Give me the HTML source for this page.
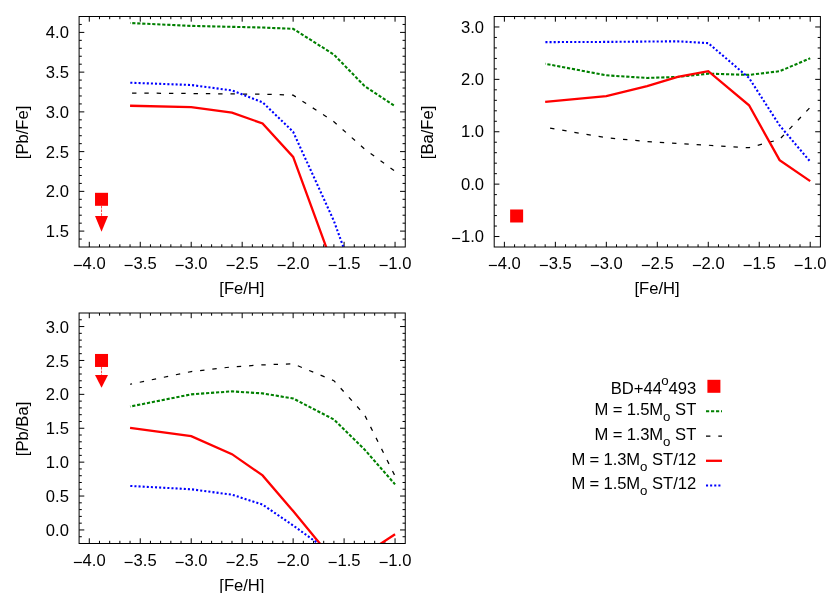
<!DOCTYPE html>
<html><head><meta charset="utf-8"><title>chart</title>
<style>
html,body{margin:0;padding:0;background:#fff;}
body{width:830px;height:593px;overflow:hidden;}
svg{display:block;will-change:transform;}
text{font-family:"Liberation Sans", sans-serif;font-size:16.6px;fill:#000;}
</style></head><body>
<svg width="830" height="593" viewBox="0 0 830 593">
<rect width="830" height="593" fill="#fff"/>
<!-- panel p1 -->
<clipPath id="cp1"><rect x="79.1" y="16.5" width="326.15" height="230.5"/></clipPath>
<path d="M89.29 247 v-5.2 M89.29 16.5 v5.2 M99.48 247 v-2.7 M99.48 16.5 v2.7 M109.68 247 v-2.7 M109.68 16.5 v2.7 M119.87 247 v-2.7 M119.87 16.5 v2.7 M130.06 247 v-2.7 M130.06 16.5 v2.7 M140.25 247 v-5.2 M140.25 16.5 v5.2 M150.45 247 v-2.7 M150.45 16.5 v2.7 M160.64 247 v-2.7 M160.64 16.5 v2.7 M170.83 247 v-2.7 M170.83 16.5 v2.7 M181.02 247 v-2.7 M181.02 16.5 v2.7 M191.21 247 v-5.2 M191.21 16.5 v5.2 M201.41 247 v-2.7 M201.41 16.5 v2.7 M211.6 247 v-2.7 M211.6 16.5 v2.7 M221.79 247 v-2.7 M221.79 16.5 v2.7 M231.98 247 v-2.7 M231.98 16.5 v2.7 M242.18 247 v-5.2 M242.18 16.5 v5.2 M252.37 247 v-2.7 M252.37 16.5 v2.7 M262.56 247 v-2.7 M262.56 16.5 v2.7 M272.75 247 v-2.7 M272.75 16.5 v2.7 M282.94 247 v-2.7 M282.94 16.5 v2.7 M293.14 247 v-5.2 M293.14 16.5 v5.2 M303.33 247 v-2.7 M303.33 16.5 v2.7 M313.52 247 v-2.7 M313.52 16.5 v2.7 M323.71 247 v-2.7 M323.71 16.5 v2.7 M333.9 247 v-2.7 M333.9 16.5 v2.7 M344.1 247 v-5.2 M344.1 16.5 v5.2 M354.29 247 v-2.7 M354.29 16.5 v2.7 M364.48 247 v-2.7 M364.48 16.5 v2.7 M374.67 247 v-2.7 M374.67 16.5 v2.7 M384.87 247 v-2.7 M384.87 16.5 v2.7 M395.06 247 v-5.2 M395.06 16.5 v5.2 M79.1 239.05 h2.7 M405.25 239.05 h-2.7 M79.1 231.1 h5.2 M405.25 231.1 h-5.2 M79.1 223.16 h2.7 M405.25 223.16 h-2.7 M79.1 215.21 h2.7 M405.25 215.21 h-2.7 M79.1 207.26 h2.7 M405.25 207.26 h-2.7 M79.1 199.31 h2.7 M405.25 199.31 h-2.7 M79.1 191.36 h5.2 M405.25 191.36 h-5.2 M79.1 183.41 h2.7 M405.25 183.41 h-2.7 M79.1 175.47 h2.7 M405.25 175.47 h-2.7 M79.1 167.52 h2.7 M405.25 167.52 h-2.7 M79.1 159.57 h2.7 M405.25 159.57 h-2.7 M79.1 151.62 h5.2 M405.25 151.62 h-5.2 M79.1 143.67 h2.7 M405.25 143.67 h-2.7 M79.1 135.72 h2.7 M405.25 135.72 h-2.7 M79.1 127.78 h2.7 M405.25 127.78 h-2.7 M79.1 119.83 h2.7 M405.25 119.83 h-2.7 M79.1 111.88 h5.2 M405.25 111.88 h-5.2 M79.1 103.93 h2.7 M405.25 103.93 h-2.7 M79.1 95.98 h2.7 M405.25 95.98 h-2.7 M79.1 88.03 h2.7 M405.25 88.03 h-2.7 M79.1 80.09 h2.7 M405.25 80.09 h-2.7 M79.1 72.14 h5.2 M405.25 72.14 h-5.2 M79.1 64.19 h2.7 M405.25 64.19 h-2.7 M79.1 56.24 h2.7 M405.25 56.24 h-2.7 M79.1 48.29 h2.7 M405.25 48.29 h-2.7 M79.1 40.34 h2.7 M405.25 40.34 h-2.7 M79.1 32.4 h5.2 M405.25 32.4 h-5.2 M79.1 24.45 h2.7 M405.25 24.45 h-2.7" stroke="#000" stroke-width="1" fill="none"/>
<g clip-path="url(#cp1)" fill="none" stroke-linejoin="miter" stroke-linecap="butt">
<polyline points="130.06,23.02 191.21,25.88 231.98,26.83 262.56,27.55 293.14,28.82 333.9,54.57 364.48,85.97 395.06,106.16" stroke="#008000" stroke-width="2.1" stroke-dasharray="3.2 1.8" stroke-dashoffset="2.8"/>
<polyline points="130.06,93.04 191.21,93.52 231.98,93.92 262.56,94.23 293.14,95.11 333.9,121.66 364.48,148.92 395.06,171.25" stroke="#000000" stroke-width="1.25" stroke-dasharray="4.4 7.9" stroke-dashoffset="10.3"/>
<polyline points="130.06,105.76 191.21,107.19 231.98,112.59 262.56,123.48 293.14,156.95 333.9,268.14 364.48,334.43 395.06,366.22" stroke="#ff0000" stroke-width="2.3"/>
<polyline points="130.06,82.71 191.21,85.01 231.98,90.42 262.56,102.26 293.14,131.75 333.9,221.01 364.48,305.02 395.06,350.33" stroke="#0000ff" stroke-width="2.1" stroke-dasharray="2.06 2.06" stroke-dashoffset="3.87"/>
</g>
<line x1="101.52" y1="205.81" x2="101.52" y2="215.9" stroke="#ff0000" stroke-width="0.7" stroke-dasharray="2.6 1.1"/>
<path d="M95.02 215.9 L108.02 215.9 L101.52 231.8 Z" fill="#ff0000"/>
<rect x="95.02" y="192.81" width="13" height="13" fill="#ff0000"/>
<rect x="79.1" y="16.5" width="326.15" height="230.5" fill="none" stroke="#000" stroke-width="1"/>
<text x="89.29" y="268.9" text-anchor="middle"><tspan dy="1.8">−</tspan><tspan dy="-1.8">4.0</tspan></text>
<text x="140.25" y="268.9" text-anchor="middle"><tspan dy="1.8">−</tspan><tspan dy="-1.8">3.5</tspan></text>
<text x="191.21" y="268.9" text-anchor="middle"><tspan dy="1.8">−</tspan><tspan dy="-1.8">3.0</tspan></text>
<text x="242.17" y="268.9" text-anchor="middle"><tspan dy="1.8">−</tspan><tspan dy="-1.8">2.5</tspan></text>
<text x="293.14" y="268.9" text-anchor="middle"><tspan dy="1.8">−</tspan><tspan dy="-1.8">2.0</tspan></text>
<text x="344.1" y="268.9" text-anchor="middle"><tspan dy="1.8">−</tspan><tspan dy="-1.8">1.5</tspan></text>
<text x="395.06" y="268.9" text-anchor="middle"><tspan dy="1.8">−</tspan><tspan dy="-1.8">1.0</tspan></text>
<text x="68.9" y="237.1" text-anchor="end">1.5</text>
<text x="68.9" y="197.36" text-anchor="end">2.0</text>
<text x="68.9" y="157.62" text-anchor="end">2.5</text>
<text x="68.9" y="117.88" text-anchor="end">3.0</text>
<text x="68.9" y="78.14" text-anchor="end">3.5</text>
<text x="68.9" y="38.4" text-anchor="end">4.0</text>
<text x="241.88" y="293.6" text-anchor="middle">[Fe/H]</text>
<text transform="translate(27.9 132.45) rotate(-90)" text-anchor="middle">[Pb/Fe]</text>
<!-- panel p2 -->
<clipPath id="cp2"><rect x="494.2" y="16.5" width="326.2" height="230.5"/></clipPath>
<path d="M504.39 247 v-5.2 M504.39 16.5 v5.2 M514.59 247 v-2.7 M514.59 16.5 v2.7 M524.78 247 v-2.7 M524.78 16.5 v2.7 M534.98 247 v-2.7 M534.98 16.5 v2.7 M545.17 247 v-2.7 M545.17 16.5 v2.7 M555.36 247 v-5.2 M555.36 16.5 v5.2 M565.56 247 v-2.7 M565.56 16.5 v2.7 M575.75 247 v-2.7 M575.75 16.5 v2.7 M585.94 247 v-2.7 M585.94 16.5 v2.7 M596.14 247 v-2.7 M596.14 16.5 v2.7 M606.33 247 v-5.2 M606.33 16.5 v5.2 M616.52 247 v-2.7 M616.52 16.5 v2.7 M626.72 247 v-2.7 M626.72 16.5 v2.7 M636.91 247 v-2.7 M636.91 16.5 v2.7 M647.11 247 v-2.7 M647.11 16.5 v2.7 M657.3 247 v-5.2 M657.3 16.5 v5.2 M667.49 247 v-2.7 M667.49 16.5 v2.7 M677.69 247 v-2.7 M677.69 16.5 v2.7 M687.88 247 v-2.7 M687.88 16.5 v2.7 M698.08 247 v-2.7 M698.08 16.5 v2.7 M708.27 247 v-5.2 M708.27 16.5 v5.2 M718.46 247 v-2.7 M718.46 16.5 v2.7 M728.66 247 v-2.7 M728.66 16.5 v2.7 M738.85 247 v-2.7 M738.85 16.5 v2.7 M749.04 247 v-2.7 M749.04 16.5 v2.7 M759.24 247 v-5.2 M759.24 16.5 v5.2 M769.43 247 v-2.7 M769.43 16.5 v2.7 M779.62 247 v-2.7 M779.62 16.5 v2.7 M789.82 247 v-2.7 M789.82 16.5 v2.7 M800.01 247 v-2.7 M800.01 16.5 v2.7 M810.21 247 v-5.2 M810.21 16.5 v5.2 M494.2 236.52 h5.2 M820.4 236.52 h-5.2 M494.2 226.05 h2.7 M820.4 226.05 h-2.7 M494.2 215.57 h2.7 M820.4 215.57 h-2.7 M494.2 205.09 h2.7 M820.4 205.09 h-2.7 M494.2 194.61 h2.7 M820.4 194.61 h-2.7 M494.2 184.14 h5.2 M820.4 184.14 h-5.2 M494.2 173.66 h2.7 M820.4 173.66 h-2.7 M494.2 163.18 h2.7 M820.4 163.18 h-2.7 M494.2 152.7 h2.7 M820.4 152.7 h-2.7 M494.2 142.23 h2.7 M820.4 142.23 h-2.7 M494.2 131.75 h5.2 M820.4 131.75 h-5.2 M494.2 121.27 h2.7 M820.4 121.27 h-2.7 M494.2 110.8 h2.7 M820.4 110.8 h-2.7 M494.2 100.32 h2.7 M820.4 100.32 h-2.7 M494.2 89.84 h2.7 M820.4 89.84 h-2.7 M494.2 79.36 h5.2 M820.4 79.36 h-5.2 M494.2 68.89 h2.7 M820.4 68.89 h-2.7 M494.2 58.41 h2.7 M820.4 58.41 h-2.7 M494.2 47.93 h2.7 M820.4 47.93 h-2.7 M494.2 37.45 h2.7 M820.4 37.45 h-2.7 M494.2 26.98 h5.2 M820.4 26.98 h-5.2" stroke="#000" stroke-width="1" fill="none"/>
<g clip-path="url(#cp2)" fill="none" stroke-linejoin="miter" stroke-linecap="butt">
<polyline points="545.17,63.75 606.33,75.33 647.11,77.95 677.69,76.95 708.27,73.65 749.04,74.91 779.62,71.24 810.21,58.3" stroke="#008000" stroke-width="2.1" stroke-dasharray="3.2 1.8" stroke-dashoffset="2.8"/>
<polyline points="545.17,127.3 606.33,137.72 647.11,141.49 677.69,143.48 708.27,145.21 749.04,147.73 779.62,139.4 810.21,107.29" stroke="#000000" stroke-width="1.25" stroke-dasharray="4.4 7.9" stroke-dashoffset="7.3"/>
<polyline points="545.17,101.89 606.33,96.18 647.11,86.07 677.69,76.95 708.27,71.24 749.04,105.29 779.62,160.14 810.21,181.15" stroke="#ff0000" stroke-width="2.3"/>
<polyline points="545.17,42.12 606.33,41.91 647.11,41.54 677.69,41.33 708.27,43.11 749.04,77.95 779.62,125.46 810.21,161.61" stroke="#0000ff" stroke-width="2.1" stroke-dasharray="2.06 2.06" stroke-dashoffset="3.87"/>
</g>
<rect x="510.13" y="209.49" width="13" height="13" fill="#ff0000"/>
<rect x="494.2" y="16.5" width="326.2" height="230.5" fill="none" stroke="#000" stroke-width="1"/>
<text x="504.39" y="268.9" text-anchor="middle"><tspan dy="1.8">−</tspan><tspan dy="-1.8">4.0</tspan></text>
<text x="555.36" y="268.9" text-anchor="middle"><tspan dy="1.8">−</tspan><tspan dy="-1.8">3.5</tspan></text>
<text x="606.33" y="268.9" text-anchor="middle"><tspan dy="1.8">−</tspan><tspan dy="-1.8">3.0</tspan></text>
<text x="657.3" y="268.9" text-anchor="middle"><tspan dy="1.8">−</tspan><tspan dy="-1.8">2.5</tspan></text>
<text x="708.27" y="268.9" text-anchor="middle"><tspan dy="1.8">−</tspan><tspan dy="-1.8">2.0</tspan></text>
<text x="759.24" y="268.9" text-anchor="middle"><tspan dy="1.8">−</tspan><tspan dy="-1.8">1.5</tspan></text>
<text x="810.21" y="268.9" text-anchor="middle"><tspan dy="1.8">−</tspan><tspan dy="-1.8">1.0</tspan></text>
<text x="484" y="242.22" text-anchor="end"><tspan dy="1.8">−</tspan><tspan dy="-1.8">1.0</tspan></text>
<text x="484" y="189.84" text-anchor="end">0.0</text>
<text x="484" y="137.45" text-anchor="end">1.0</text>
<text x="484" y="85.06" text-anchor="end">2.0</text>
<text x="484" y="32.68" text-anchor="end">3.0</text>
<text x="657" y="293.6" text-anchor="middle">[Fe/H]</text>
<text transform="translate(433 132.45) rotate(-90)" text-anchor="middle">[Ba/Fe]</text>
<!-- panel p3 -->
<clipPath id="cp3"><rect x="79.1" y="313" width="326.15" height="230.5"/></clipPath>
<path d="M89.29 543.5 v-5.2 M89.29 313 v5.2 M99.48 543.5 v-2.7 M99.48 313 v2.7 M109.68 543.5 v-2.7 M109.68 313 v2.7 M119.87 543.5 v-2.7 M119.87 313 v2.7 M130.06 543.5 v-2.7 M130.06 313 v2.7 M140.25 543.5 v-5.2 M140.25 313 v5.2 M150.45 543.5 v-2.7 M150.45 313 v2.7 M160.64 543.5 v-2.7 M160.64 313 v2.7 M170.83 543.5 v-2.7 M170.83 313 v2.7 M181.02 543.5 v-2.7 M181.02 313 v2.7 M191.21 543.5 v-5.2 M191.21 313 v5.2 M201.41 543.5 v-2.7 M201.41 313 v2.7 M211.6 543.5 v-2.7 M211.6 313 v2.7 M221.79 543.5 v-2.7 M221.79 313 v2.7 M231.98 543.5 v-2.7 M231.98 313 v2.7 M242.18 543.5 v-5.2 M242.18 313 v5.2 M252.37 543.5 v-2.7 M252.37 313 v2.7 M262.56 543.5 v-2.7 M262.56 313 v2.7 M272.75 543.5 v-2.7 M272.75 313 v2.7 M282.94 543.5 v-2.7 M282.94 313 v2.7 M293.14 543.5 v-5.2 M293.14 313 v5.2 M303.33 543.5 v-2.7 M303.33 313 v2.7 M313.52 543.5 v-2.7 M313.52 313 v2.7 M323.71 543.5 v-2.7 M323.71 313 v2.7 M333.9 543.5 v-2.7 M333.9 313 v2.7 M344.1 543.5 v-5.2 M344.1 313 v5.2 M354.29 543.5 v-2.7 M354.29 313 v2.7 M364.48 543.5 v-2.7 M364.48 313 v2.7 M374.67 543.5 v-2.7 M374.67 313 v2.7 M384.87 543.5 v-2.7 M384.87 313 v2.7 M395.06 543.5 v-5.2 M395.06 313 v5.2 M79.1 536.72 h2.7 M405.25 536.72 h-2.7 M79.1 529.94 h5.2 M405.25 529.94 h-5.2 M79.1 523.16 h2.7 M405.25 523.16 h-2.7 M79.1 516.38 h2.7 M405.25 516.38 h-2.7 M79.1 509.6 h2.7 M405.25 509.6 h-2.7 M79.1 502.82 h2.7 M405.25 502.82 h-2.7 M79.1 496.04 h5.2 M405.25 496.04 h-5.2 M79.1 489.26 h2.7 M405.25 489.26 h-2.7 M79.1 482.49 h2.7 M405.25 482.49 h-2.7 M79.1 475.71 h2.7 M405.25 475.71 h-2.7 M79.1 468.93 h2.7 M405.25 468.93 h-2.7 M79.1 462.15 h5.2 M405.25 462.15 h-5.2 M79.1 455.37 h2.7 M405.25 455.37 h-2.7 M79.1 448.59 h2.7 M405.25 448.59 h-2.7 M79.1 441.81 h2.7 M405.25 441.81 h-2.7 M79.1 435.03 h2.7 M405.25 435.03 h-2.7 M79.1 428.25 h5.2 M405.25 428.25 h-5.2 M79.1 421.47 h2.7 M405.25 421.47 h-2.7 M79.1 414.69 h2.7 M405.25 414.69 h-2.7 M79.1 407.91 h2.7 M405.25 407.91 h-2.7 M79.1 401.13 h2.7 M405.25 401.13 h-2.7 M79.1 394.35 h5.2 M405.25 394.35 h-5.2 M79.1 387.57 h2.7 M405.25 387.57 h-2.7 M79.1 380.79 h2.7 M405.25 380.79 h-2.7 M79.1 374.01 h2.7 M405.25 374.01 h-2.7 M79.1 367.24 h2.7 M405.25 367.24 h-2.7 M79.1 360.46 h5.2 M405.25 360.46 h-5.2 M79.1 353.68 h2.7 M405.25 353.68 h-2.7 M79.1 346.9 h2.7 M405.25 346.9 h-2.7 M79.1 340.12 h2.7 M405.25 340.12 h-2.7 M79.1 333.34 h2.7 M405.25 333.34 h-2.7 M79.1 326.56 h5.2 M405.25 326.56 h-5.2 M79.1 319.78 h2.7 M405.25 319.78 h-2.7" stroke="#000" stroke-width="1" fill="none"/>
<g clip-path="url(#cp3)" fill="none" stroke-linejoin="miter" stroke-linecap="butt">
<polyline points="130.06,406.56 191.21,394.35 231.98,391.37 262.56,393.4 293.14,398.49 333.9,419.5 364.48,449.4 395.06,484.38" stroke="#008000" stroke-width="2.1" stroke-dasharray="3.2 1.8" stroke-dashoffset="2.8"/>
<polyline points="130.06,384.25 191.21,371.57 231.98,366.9 262.56,364.86 293.14,363.85 333.9,380.66 364.48,414.69 395.06,476.04" stroke="#000000" stroke-width="1.25" stroke-dasharray="4.4 7.9" stroke-dashoffset="2.4"/>
<polyline points="130.06,427.84 191.21,436.11 231.98,454.15 262.56,475.43 293.14,511.09 333.9,560.58 364.48,554.35 395.06,534.21" stroke="#ff0000" stroke-width="2.3"/>
<polyline points="130.06,485.94 191.21,489.26 231.98,494.69 262.56,504.59 293.14,525.47 333.9,554.89 364.48,570.62 395.06,584.18" stroke="#0000ff" stroke-width="2.1" stroke-dasharray="2.06 2.06" stroke-dashoffset="3.87"/>
</g>
<line x1="101.52" y1="366.96" x2="101.52" y2="375.1" stroke="#ff0000" stroke-width="0.7" stroke-dasharray="2.6 1.1"/>
<path d="M95.02 375.1 L108.02 375.1 L101.52 387.7 Z" fill="#ff0000"/>
<rect x="95.02" y="353.96" width="13" height="13" fill="#ff0000"/>
<rect x="79.1" y="313" width="326.15" height="230.5" fill="none" stroke="#000" stroke-width="1"/>
<text x="89.29" y="566.15" text-anchor="middle"><tspan dy="1.8">−</tspan><tspan dy="-1.8">4.0</tspan></text>
<text x="140.25" y="566.15" text-anchor="middle"><tspan dy="1.8">−</tspan><tspan dy="-1.8">3.5</tspan></text>
<text x="191.21" y="566.15" text-anchor="middle"><tspan dy="1.8">−</tspan><tspan dy="-1.8">3.0</tspan></text>
<text x="242.17" y="566.15" text-anchor="middle"><tspan dy="1.8">−</tspan><tspan dy="-1.8">2.5</tspan></text>
<text x="293.14" y="566.15" text-anchor="middle"><tspan dy="1.8">−</tspan><tspan dy="-1.8">2.0</tspan></text>
<text x="344.1" y="566.15" text-anchor="middle"><tspan dy="1.8">−</tspan><tspan dy="-1.8">1.5</tspan></text>
<text x="395.06" y="566.15" text-anchor="middle"><tspan dy="1.8">−</tspan><tspan dy="-1.8">1.0</tspan></text>
<text x="68.9" y="536.04" text-anchor="end">0.0</text>
<text x="68.9" y="502.14" text-anchor="end">0.5</text>
<text x="68.9" y="468.25" text-anchor="end">1.0</text>
<text x="68.9" y="434.35" text-anchor="end">1.5</text>
<text x="68.9" y="400.45" text-anchor="end">2.0</text>
<text x="68.9" y="366.56" text-anchor="end">2.5</text>
<text x="68.9" y="332.66" text-anchor="end">3.0</text>
<text x="241.88" y="590.85" text-anchor="middle">[Fe/H]</text>
<text transform="translate(27.9 428.95) rotate(-90)" text-anchor="middle">[Pb/Ba]</text>
<!-- legend -->
<text x="696.3" y="393.8" text-anchor="end">BD+44<tspan dy="-8.4" dx="-0.8" font-size="13.3">o</tspan><tspan dy="8.4">493</tspan></text>
<text x="696.3" y="415.1" text-anchor="end"><tspan letter-spacing="-0.13">M = 1.5M</tspan><tspan dy="6.0" font-size="13.3">o</tspan><tspan dy="-6.0"> ST</tspan></text>
<text x="696.3" y="439.85" text-anchor="end"><tspan letter-spacing="-0.13">M = 1.3M</tspan><tspan dy="6.0" font-size="13.3">o</tspan><tspan dy="-6.0"> ST</tspan></text>
<text x="696.3" y="464.6" text-anchor="end"><tspan letter-spacing="-0.13">M = 1.3M</tspan><tspan dy="6.0" font-size="13.3">o</tspan><tspan dy="-6.0"> ST/12</tspan></text>
<text x="696.3" y="489.3" text-anchor="end"><tspan letter-spacing="-0.13">M = 1.5M</tspan><tspan dy="6.0" font-size="13.3">o</tspan><tspan dy="-6.0"> ST/12</tspan></text>
<rect x="707.4" y="379.8" width="13" height="13" fill="#ff0000"/>
<line x1="706.0" y1="411.3" x2="722.0" y2="411.3" stroke="#008000" stroke-width="2.1" stroke-dasharray="3.2 1.8"/>
<line x1="706.0" y1="436.05" x2="722.0" y2="436.05" stroke="#000000" stroke-width="1.25" stroke-dasharray="4.4 7.9"/>
<line x1="706.0" y1="460.8" x2="722.0" y2="460.8" stroke="#ff0000" stroke-width="2.3"/>
<line x1="706.0" y1="485.5" x2="722.0" y2="485.5" stroke="#0000ff" stroke-width="2.1" stroke-dasharray="2.06 2.06"/>
</svg>
</body></html>
